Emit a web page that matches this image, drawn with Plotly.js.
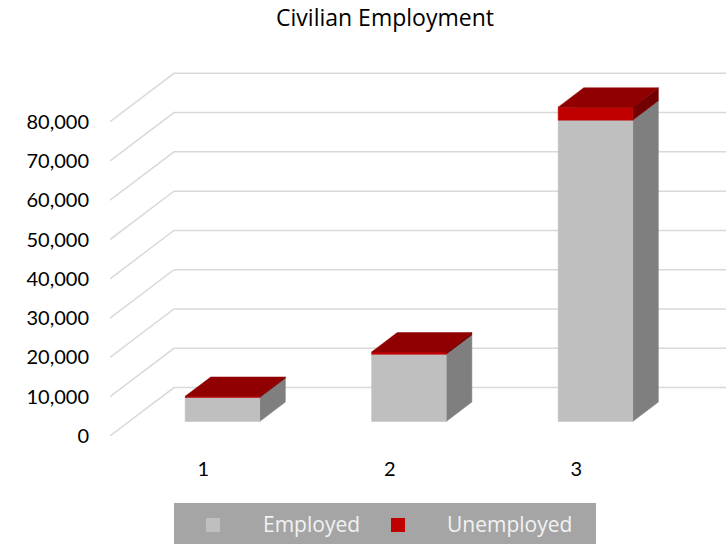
<!DOCTYPE html>
<html>
<head>
<meta charset="utf-8">
<script src="https://cdn.plot.ly/plotly-3.0.1.min.js"></script>
<style>html,body{margin:0;padding:0;background:#fff;}#chart{width:726px;height:544px;}</style>
</head>
<body>
<div id="chart"></div>
<script>
// ---- data ----
const categories = ['1', '2', '3'];
const employed = [6100, 17100, 76700];
const unemployed = [300, 600, 3300];
const seriesNames = ['Employed', 'Unemployed'];
const yTickValues = [0, 10000, 20000, 30000, 40000, 50000, 60000, 70000, 80000];

// ---- layout geometry (pixels) ----
const W = 726, H = 544;
const PL = 110, PR = 726, PT = 50, PB = 455;
const pxPerCat = 186.5;          // px per category unit
const pxPerVal = 39.29 / 10000;  // px per value unit
const zeroPx = 436;              // pixel row of value 0 on the front plane
const depthPx = {dx: 64, dy: 48.4}; // oblique depth offset of the back wall
const DX = depthPx.dx / pxPerCat;
const DY = depthPx.dy / pxPerVal;
const barHalf = 0.2, dFront = 0.3, dBack = 0.7;

const xRange = [0.5, 0.5 + (PR - PL) / pxPerCat];
const yRange = [-(PB - zeroPx) / pxPerVal, (zeroPx - PT) / pxPerVal];

function P(x, v, d) { return [x + d * DX, v + d * DY]; }

const traces = [];

// gridlines: side wall diagonal + back wall horizontal
const gx = [], gy = [];
const xLeft = 0.5, xRight = categories.length + 0.5;
yTickValues.forEach(v => {
  [P(xLeft, v, 0), P(xLeft, v, 1), P(xRight, v, 1)].forEach(p => { gx.push(p[0]); gy.push(p[1]); });
  gx.push(null); gy.push(null);
});
traces.push({type: 'scatter', mode: 'lines', x: gx, y: gy, line: {color: '#d9d9d9', width: 1.5},
  hoverinfo: 'skip', showlegend: false, cliponaxis: true});

function poly(pts, color) {
  const xs = pts.map(p => p[0]), ys = pts.map(p => p[1]);
  xs.push(xs[0]); ys.push(ys[0]);
  traces.push({type: 'scatter', mode: 'lines', x: xs, y: ys, fill: 'toself', fillcolor: color,
    line: {color: color, width: 0.5}, hoverinfo: 'skip', showlegend: false});
}

const faceColors = [
  {front: '#bfbfbf', side: '#7f7f7f', top: '#a6a6a6'},
  {front: '#c00000', side: '#730000', top: '#900000'}
];

categories.forEach((c, i) => {
  const cx = i + 1;
  const segs = [[0, employed[i]], [employed[i], employed[i] + unemployed[i]]];
  segs.forEach((s, k) => {
    const [v0, v1] = s;
    const col = faceColors[k];
    // right side face
    poly([P(cx + barHalf, v0, dFront), P(cx + barHalf, v0, dBack), P(cx + barHalf, v1, dBack), P(cx + barHalf, v1, dFront)], col.side);
    // front face
    poly([P(cx - barHalf, v0, dFront), P(cx + barHalf, v0, dFront), P(cx + barHalf, v1, dFront), P(cx - barHalf, v1, dFront)], col.front);
    // top face
    poly([P(cx - barHalf, v1, dFront), P(cx + barHalf, v1, dFront), P(cx + barHalf, v1, dBack), P(cx - barHalf, v1, dBack)], col.top);
  });
});

// ---- manual legend ----
const px2x = px => (px - PL) / (PR - PL);
const px2y = py => (PB - py) / (PB - PT);
const shapes = [
  {type: 'rect', xref: 'paper', yref: 'paper', x0: px2x(174), x1: px2x(596), y0: px2y(544), y1: px2y(503),
    fillcolor: '#a5a5a5', line: {width: 0}, layer: 'above'},
  {type: 'rect', xref: 'paper', yref: 'paper', x0: px2x(206), x1: px2x(220), y0: px2y(532), y1: px2y(518),
    fillcolor: faceColors[0].front, line: {width: 0}, layer: 'above'},
  {type: 'rect', xref: 'paper', yref: 'paper', x0: px2x(391), x1: px2x(405), y0: px2y(532), y1: px2y(518),
    fillcolor: faceColors[1].front, line: {width: 0}, layer: 'above'}
];
const legendFont = {family: '"Open Sans", Lato, sans-serif', size: 21, color: '#f2f2f2'};
const annotations = [
  {text: seriesNames[0], xref: 'paper', yref: 'paper', x: px2x(261), y: px2y(524), xanchor: 'left', yanchor: 'middle', showarrow: false, font: legendFont},
  {text: seriesNames[1], xref: 'paper', yref: 'paper', x: px2x(445), y: px2y(524), xanchor: 'left', yanchor: 'middle', showarrow: false, font: legendFont}
];

const layout = {
  width: W, height: H,
  margin: {l: PL, r: W - PR, t: PT, b: H - PB, pad: 0},
  paper_bgcolor: '#ffffff', plot_bgcolor: '#ffffff',
  font: {family: 'Lato, "Open Sans", sans-serif', size: 20, color: '#000000'},
  title: {text: 'Civilian Employment', font: {family: '"Open Sans", Lato, sans-serif', size: 23, color: '#000000'},
    xref: 'container', yref: 'container', x: 385 / W, y: 1 - 18 / H, xanchor: 'center', yanchor: 'middle'},
  showlegend: false,
  xaxis: {range: xRange, tickvals: categories.map((c, i) => i + 1), ticktext: categories,
    showgrid: false, zeroline: false, showline: false, ticks: '', fixedrange: true},
  yaxis: {range: yRange, tickvals: yTickValues, tickformat: ',', showgrid: false, zeroline: false,
    showline: false, ticks: '', ticklabelstandoff: 20, fixedrange: true},
  shapes: shapes,
  annotations: annotations
};

Plotly.newPlot('chart', traces, layout, {staticPlot: true, displayModeBar: false});
</script>
</body>
</html>
